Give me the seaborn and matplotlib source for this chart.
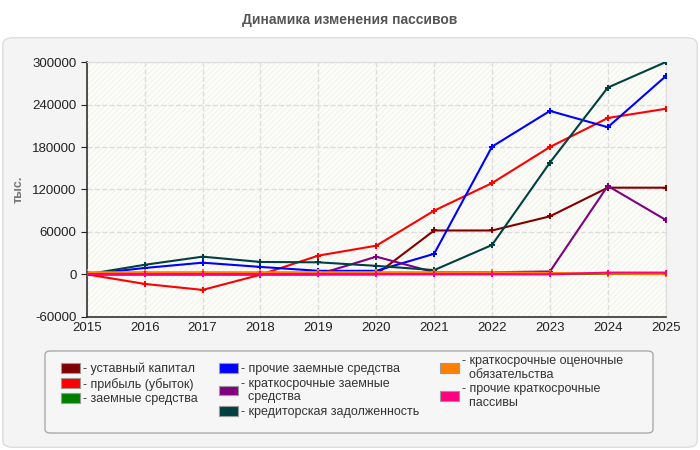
import seaborn as sns
import matplotlib.pyplot as plt
import pandas as pd
from matplotlib.patches import FancyBboxPatch, Rectangle, Patch

years = [2015, 2016, 2017, 2018, 2019, 2020, 2021, 2022, 2023, 2024, 2025]

ustavny = [0, 0, 0, 0, 0, 0, 62000, 62000, 82000, 122500, 122500]
pribyl = [0, -13500, -22000, -500, 26500, 40500, 90000, 129000, 180000, 221000, 234000]
zaemnye = [0, 0, 0, 0, 0, 0, 0, 0, 0, 0, 0]
prochie_zaem = [0, 9000, 16500, 10500, 5000, 5000, 29000, 180500, 231000, 208000, 280000]
kratk_zaem = [0, 0, 0, 0, 0, 25000, 3000, 3000, 4000, 125000, 77000]
kreditor = [0, 13500, 25000, 17500, 17000, 12000, 6000, 41500, 158000, 264000, 300000]
ocenochnye = [3000, 3000, 3000, 3000, 3000, 3000, 3000, 3000, 2000, 1000, 500]
prochie_kratk = [0, 0, 0, 0, 0, 0, 0, 0, 0, 2500, 2500]

names = [
    "- уставный капитал",
    "- прибыль (убыток)",
    "- заемные средства",
    "- прочие заемные средства",
    "- краткосрочные заемные\n  средства",
    "- кредиторская задолженность",
    "- краткосрочные оценочные\n  обязательства",
    "- прочие краткосрочные\n  пассивы",
]
colors = ["#800000", "#ff0000", "#008000", "#0000ff", "#800080", "#004040", "#ff8000", "#ff0080"]
series = [ustavny, pribyl, zaemnye, prochie_zaem, kratk_zaem, kreditor, ocenochnye, prochie_kratk]

rows = []
for name, vals in zip(names, series):
    for y, v in zip(years, vals):
        rows.append({"year": y, "value": v, "series": name})
df = pd.DataFrame(rows)

plt.rcParams["font.family"] = ["Liberation Sans", "DejaVu Sans"]
plt.rcParams["hatch.linewidth"] = 0.5
plt.rcParams["axes.unicode_minus"] = False

fig = plt.figure(figsize=(7, 4.5), dpi=100)
fig.patch.set_facecolor("white")

# grey rounded panel behind the chart
panel = FancyBboxPatch((0.004, 0.006), 0.992, 0.91, boxstyle="round,pad=0,rounding_size=0.015",
                       transform=fig.transFigure, facecolor="#f4f4f4", edgecolor="#dddddd",
                       linewidth=1, zorder=-5)
fig.patches.append(panel)

# legend box drawn by hand so it has the same size as the reference
legbox = FancyBboxPatch((45 / 700, 17 / 450), 608 / 700, 82 / 450,
                        boxstyle="round,pad=0,rounding_size=0.008",
                        transform=fig.transFigure, facecolor="#f6f6f6", edgecolor="#aaaaaa",
                        linewidth=1, zorder=-4)
fig.patches.append(legbox)

fig.text(0.5, 0.955, "Динамика изменения пассивов", ha="center", va="center",
         fontsize=10, fontweight="bold", color="#555555")

ax = fig.add_axes([0.124, 0.296, 0.827, 0.566])
ax.set_facecolor("#fdfdf8")
ax.add_patch(Rectangle((0, 0), 1, 1, transform=ax.transAxes, facecolor="none",
                       edgecolor="#ececec", hatch="//////", linewidth=0, zorder=0))

sns.lineplot(data=df, x="year", y="value", hue="series", palette=colors,
             marker="P", markersize=4, markeredgewidth=0, linewidth=1.5,
             legend=False, ax=ax, zorder=3)

ax.set_xlim(2015, 2025)
ax.set_ylim(-60000, 300000)
ax.set_xticks(years)
ax.set_yticks(range(-60000, 300001, 60000))
ax.tick_params(axis="both", labelsize=9.5, colors="#222222", length=4)
ax.tick_params(axis="x", length=0)
ax.grid(True, color="#dddddd", linestyle="--", linewidth=1)
ax.set_axisbelow(True)
ax.set_xlabel("")
ax.set_ylabel("")
for s in ["top", "right"]:
    ax.spines[s].set_color("#dddddd")
for s in ["left", "bottom"]:
    ax.spines[s].set_color("#333333")
    ax.spines[s].set_linewidth(1.2)

fig.text(0.027, 0.58, "тыс.", rotation=90, ha="center", va="center",
         fontsize=9, fontweight="bold", color="#777777")

handles = [Patch(facecolor=c, edgecolor="#999999", linewidth=0.8) for c in colors]
leg = fig.legend(handles, names, loc="upper left",
                 bbox_to_anchor=(52 / 700, 0, 580 / 700, (450 - 346) / 450), mode="expand",
                 ncol=3, fontsize=9, frameon=False, handlelength=1.5, handleheight=0.8,
                 handletextpad=0.25, columnspacing=1.0, labelspacing=0.2,
                 borderpad=0.2)
for t in leg.get_texts():
    t.set_color("#333333")

fig.savefig("out.png", dpi=100)
